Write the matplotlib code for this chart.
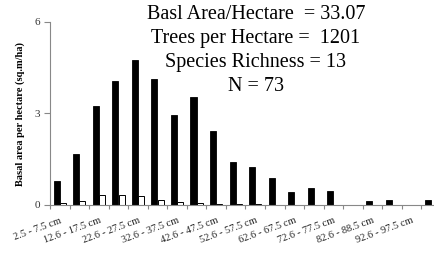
import numpy as np
import matplotlib
matplotlib.use("Agg")
import matplotlib.pyplot as plt

plt.rcParams['font.family'] = ['Liberation Serif', 'DejaVu Serif']

#Diameter classes (cm)
classes = ["2.5 - 7.5 cm","7.6 - 12.5 cm","12.6 - 17.5 cm","17.6 - 22.5 cm","22.6 - 27.5 cm",
           "27.6 - 32.5 cm","32.6 - 37.5 cm","37.6 - 42.5 cm","42.6 - 47.5 cm","47.6 - 52.5 cm",
           "52.6 - 57.5 cm","57.6 - 62.5 cm","62.6 - 67.5 cm","67.6 - 72.5 cm","72.6 - 77.5 cm",
           "77.6 - 82.5 cm","82.6 - 88.5 cm","88.6 - 92.5 cm","92.6 - 97.5 cm","97.6 - 102.5 cm"]
#basal area per hectare, all species
basal_all = [0.79, 1.68, 3.26, 4.05, 4.77, 4.14, 2.96, 3.55, 2.43, 1.41,
             1.25, 0.90, 0.43, 0.56, 0.46, 0.0, 0.13, 0.15, 0.0, 0.18]
#basal area per hectare, second series
basal_sub = [0.07, 0.12, 0.32, 0.34, 0.30, 0.15, 0.10, 0.05, 0.03, 0.02,
             0.02, 0.0, 0.0, 0.0, 0.0, 0.0, 0.0, 0.0, 0.0, 0.0]
yticks = [0, 3, 6]
summary = "Basl Area/Hectare  = 33.07\nTrees per Hectare =  1201\nSpecies Richness = 13\nN = 73"

x = np.arange(len(classes))
w = 0.31

fig = plt.figure(figsize=(4.35, 2.6), dpi=100)
ax = fig.add_axes([50/435, 55/260, 391/435, 183/260])

ax.bar(x-0.16, basal_all, width=w, color="black", edgecolor="black", linewidth=0.6)
ax.bar(x+0.16, basal_sub, width=w, color="white", edgecolor="black", linewidth=0.7)

ax.set_xlim(-0.5, len(classes)-0.5)
ax.set_ylim(0, 6)
ax.set_yticks(yticks)
ax.tick_params(axis="y", colors="#888888", labelcolor="#333333", labelsize=8, length=4, width=0.8, pad=3)

#category boundary ticks, labels on every other class
ax.set_xticks(np.arange(-0.5, len(classes)), minor=True)
ax.set_xticks(x[::2])
ax.set_xticklabels(classes[::2], rotation=20, ha="right", va="top", rotation_mode="anchor", fontsize=7.5, color="#222222")
ax.tick_params(axis="x", which="major", length=0, pad=8)
ax.tick_params(axis="x", which="minor", length=3, width=0.8, colors="#888888")

for s in ["top","right"]:
    ax.spines[s].set_visible(False)
for s in ["left","bottom"]:
    ax.spines[s].set_color("#888888")
    ax.spines[s].set_linewidth(0.8)

ax.set_ylabel("Basal area per hectare (sq.m/ha)", fontsize=7.5, fontweight="bold", labelpad=7)

fig.text(256/435, 1-5/260, summary, ha="center", va="top", fontsize=14.5, linespacing=1.36, multialignment="center")

plt.savefig("out.png", dpi=100)
plt.close(fig)
